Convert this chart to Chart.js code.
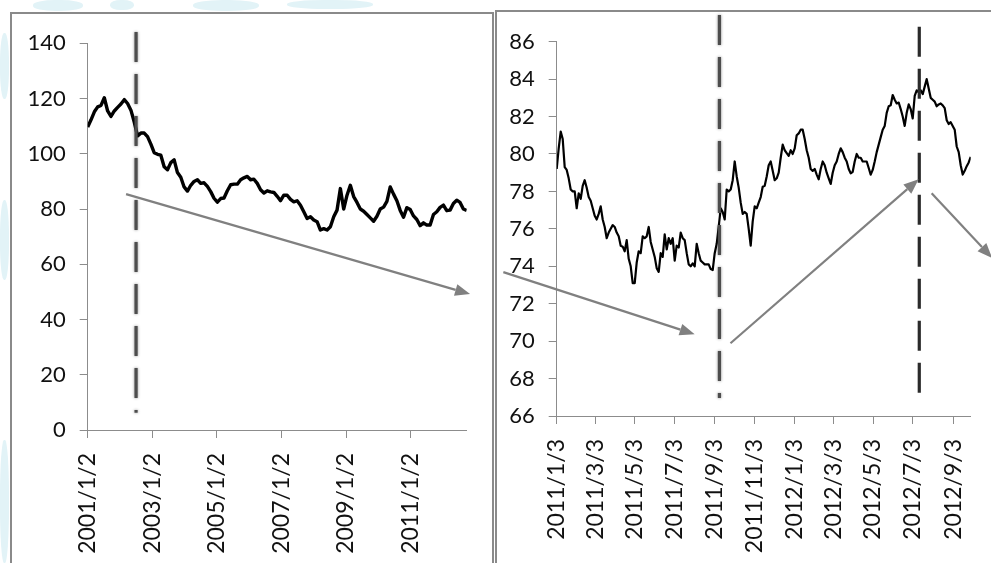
<!DOCTYPE html>
<html>
<head>
<meta charset="utf-8">
<script src="https://cdn.jsdelivr.net/npm/chart.js@4.4.1/dist/chart.umd.min.js"></script>
<style>
  html, body { margin: 0; padding: 0; background: #fff; overflow: hidden; }
  body { width: 991px; height: 563px; position: relative; font-family: Lato, sans-serif; }
  .wm { position: absolute; background: #e2f3f7; border-radius: 45%; }
  .panel { position: absolute; box-sizing: border-box; border: 2px solid #8a8a8a; background: #fff; }
  #panelLeft { left: 10px; top: 12px; width: 484px; height: 600px; }
  #panelRight { left: 495px; top: 10px; width: 540px; height: 600px; }
  canvas { position: absolute; }
  #leftChart { left: 12px; top: 14px; }
  #rightChart { left: 497px; top: 12px; }
</style>
</head>
<body>
<!-- faint background pattern around the panels -->
<div class="wm" style="left:33px;top:0;width:50px;height:11px;"></div>
<div class="wm" style="left:110px;top:0;width:24px;height:10px;"></div>
<div class="wm" style="left:193px;top:0;width:66px;height:11px;"></div>
<div class="wm" style="left:287px;top:0;width:86px;height:9px;"></div>
<div class="wm" style="left:0;top:33px;width:9px;height:66px;"></div>
<div class="wm" style="left:0;top:200px;width:9px;height:80px;"></div>
<div class="wm" style="left:0;top:440px;width:9px;height:123px;"></div>

<div class="panel" id="panelLeft"></div>
<div class="panel" id="panelRight"></div>
<canvas id="leftChart" width="480" height="549"></canvas>
<canvas id="rightChart" width="494" height="551"></canvas>

<script>
// ---- Long-run series, 2001/1/2 – 2012/9/28, evenly spaced samples ----
const leftStart = '2001/1/2';
const leftEnd = '2012/9/28';
const leftValues = [
  109.7, 112.3, 115.2, 117, 117.5, 120.3, 115.5, 113.5, 115.5, 116.8,
  118, 119.6, 118.2, 115.8, 111.5, 106.5, 107.5, 107.5, 106.2, 103.5,
  100.4, 99.8, 99.5, 95.3, 94.2, 96.8, 97.8, 93.2, 91.5, 88,
  86.5, 88.6, 90, 90.6, 89.3, 89.5, 88.2, 86.3, 83.9, 82.5,
  83.8, 84, 86.6, 88.8, 89, 89, 90.6, 91.3, 91.8, 90.6,
  90.8, 89.3, 87, 85.8, 86.6, 86.2, 86, 84.6, 83,
  85, 85, 83.5, 82.6, 83, 81.4, 79, 76.6, 77.2, 76,
  75.4, 72.4, 72.9, 72.4, 73.6, 77.2, 79.6, 87.4, 80, 85,
  88.6, 84.5, 82.4, 80, 79.2, 78, 76.8, 75.6, 77.4, 80,
  80.7, 82.8, 88, 85.4, 83, 79.5, 77, 80.5, 79.8, 77.5,
  76.2, 74, 75, 74.2, 74.2, 78, 79, 80.6, 81.4, 79.4,
  79.6, 82, 83.2, 82.4, 80, 79.5
];
const leftTickDates = ['2001/1/2', '2003/1/2', '2005/1/2', '2007/1/2', '2009/1/2', '2011/1/2'];
const leftYRange = [0, 140, 20];

// ---- Recent series, 2011/1/3 – 2012/9/30, evenly spaced samples ----
const rightStart = '2011/1/3';
const rightEnd = '2012/9/30';
const rightValues = [
  79.2, 80.3, 81.2, 80.8, 79.3, 79.15, 78.7, 78.1, 78.0, 78.0,
  77.1, 77.9, 77.6, 78.3, 78.6, 78.2, 77.7, 77.5, 77.1, 76.7,
  76.5, 76.8, 77.2, 76.5, 76.1, 75.5, 75.8, 76.0, 76.2, 76.1,
  75.8, 75.6, 75.1, 75.05, 74.8, 75.4, 74.4, 74.0, 73.1, 73.1,
  74.2, 74.8, 74.7, 75.6, 75.5, 75.6, 76.1, 75.3, 74.9, 74.5,
  73.9, 73.7, 74.7, 74.5, 75.7, 74.9, 75.5, 75.2, 75.5, 74.3,
  75.1, 75.0, 75.8, 75.5, 75.4, 74.7, 74.1, 74.0, 74.15, 74.0,
  75.2, 74.7, 74.3, 74.2, 74.1, 74.1, 74.1, 73.85, 73.8, 74.7,
  75.2, 76.1, 77.1, 76.9, 76.5, 78.1, 78.0, 78.1, 78.6, 79.6,
  78.8, 78.2, 77.4, 76.8, 76.9, 76.8, 76.0, 75.1, 76.4, 77.2,
  77.1, 77.4,
  77.7, 78.25, 78.3, 78.8, 79.4, 79.6, 79.1, 78.6, 78.7, 79.0,
  79.8, 80.5, 80.2, 80.05, 79.9, 80.2, 80.0, 80.3, 81.0, 81.1,
  81.3, 81.3, 80.8, 80.2, 79.8, 79.2, 79.1, 79.2, 78.9, 78.65,
  79.2, 79.6, 79.4, 79.0, 78.7, 78.4, 79.0, 79.4, 79.6, 80.0,
  80.3, 80.1, 79.8, 79.6, 79.2, 78.97, 79.05, 79.6, 80.0, 79.8,
  79.8, 79.6, 79.6, 79.6, 79.25, 78.9, 79.15, 79.6, 80.1, 80.5,
  80.9, 81.3, 81.5, 82.2, 82.55, 82.6, 83.15, 82.9, 82.7, 82.75,
  82.4, 82.0, 81.5, 82.2, 82.65, 82.4, 81.9, 83.1, 83.4, 83.3,
  83.4, 83.2, 83.6, 84.0, 83.5, 83.0, 82.9, 82.8, 82.55, 82.65,
  82.7, 82.6, 82.45, 81.8, 81.6, 81.7, 81.5, 81.3, 80.4, 80.1,
  79.4, 78.9, 79.1, 79.35, 79.55, 79.85
];
const rightTickDates = ['2011/1/3', '2011/3/3', '2011/5/3', '2011/7/3', '2011/9/3', '2011/11/3',
                        '2012/1/3', '2012/3/3', '2012/5/3', '2012/7/3', '2012/9/3'];
const rightYRange = [66, 86, 2];

// ---- Turning-point markers (dashed verticals) and trend arrows ----
const leftMarkers = [
  { date: '2002/7/3', top: 144.1, bottom: 6.2, color: '#4d4d4d', soft: true }
];
const leftArrows = [
  { from: ['2002/3/12', 85.4], to: ['2012/11/5', 49.2] }
];
const rightMarkers = [
  { date: '2011/9/10', top: 87.42, bottom: 66.96, color: '#4d4d4d', soft: true },
  { date: '2012/7/13', top: 86.8, bottom: 66.76, color: '#2b2b2b', soft: false }
];
const rightArrows = [
  { from: ['2010/10/13', 73.69], to: ['2011/8/3', 70.37] },
  { from: ['2011/9/27', 69.885], to: ['2012/7/12', 78.65] },
  { from: ['2012/8/1', 77.9], to: ['2012/11/2', 74.44] }
];

// day number (UTC) of a 'yyyy/m/d' string
function dayNum(s) {
  const [y, m, d] = s.split('/').map(Number);
  return Date.UTC(y, m - 1, d) / 86400000;
}

Chart.defaults.font.family = 'Lato';

function overlayPlugin(markers, arrows) {
  return {
    id: 'overlay',
    afterDatasetsDraw(chart) {
      const { ctx, scales } = chart;
      const px = d => scales.x.getPixelForValue(dayNum(d));
      const py = v => scales.y.getPixelForValue(v);
      markers.forEach(m => {
        ctx.save();
        ctx.strokeStyle = m.color;
        ctx.lineWidth = 3.2;
        ctx.setLineDash([30, 12]);
        if (m.soft) { ctx.shadowColor = 'rgba(0,0,0,0.45)'; ctx.shadowBlur = 3; }
        const X = px(m.date);
        ctx.beginPath();
        ctx.moveTo(X, py(m.top));
        ctx.lineTo(X, py(m.bottom));
        ctx.stroke();
        ctx.restore();
      });
      arrows.forEach(a => {
        const x1 = px(a.from[0]), y1 = py(a.from[1]);
        const x2 = px(a.to[0]), y2 = py(a.to[1]);
        const ang = Math.atan2(y2 - y1, x2 - x1);
        const head = 15, half = 6;
        const bx = x2 - head * Math.cos(ang), by = y2 - head * Math.sin(ang);
        ctx.save();
        ctx.strokeStyle = '#808080';
        ctx.fillStyle = '#808080';
        ctx.lineWidth = 2.2;
        ctx.beginPath();
        ctx.moveTo(x1, y1);
        ctx.lineTo(bx, by);
        ctx.stroke();
        ctx.beginPath();
        ctx.moveTo(x2, y2);
        ctx.lineTo(bx + half * Math.sin(ang), by - half * Math.cos(ang));
        ctx.lineTo(bx - half * Math.sin(ang), by + half * Math.cos(ang));
        ctx.closePath();
        ctx.fill();
        ctx.restore();
      });
    }
  };
}

function drawSeries(canvasId, cfg) {
  const t0 = dayNum(cfg.start), t1 = dayNum(cfg.end);
  const n = cfg.values.length;
  const points = cfg.values.map((v, i) => ({ x: t0 + i * (t1 - t0) / (n - 1), y: v }));
  const tickDays = cfg.ticks.map(dayNum);
  const axisColor = '#8c8c8c';
  return new Chart(document.getElementById(canvasId), {
    type: 'line',
    data: {
      datasets: [{
        data: points,
        borderColor: '#000',
        borderWidth: cfg.lineWidth,
        borderJoinStyle: 'round',
        pointRadius: 0,
        tension: 0,
        fill: false
      }]
    },
    options: {
      responsive: false,
      animation: false,
      devicePixelRatio: 1,
      layout: { padding: cfg.padding },
      plugins: { legend: { display: false }, tooltip: { enabled: false } },
      scales: {
        x: {
          type: 'linear',
          min: t0,
          max: t1,
          afterBuildTicks: axis => { axis.ticks = tickDays.map(v => ({ value: v })); },
          afterFit: axis => {
            axis.height = cfg.xHeight;
            axis.paddingLeft = 0;
            axis.paddingRight = 0;
          },
          ticks: {
            autoSkip: false,
            minRotation: 90,
            maxRotation: 90,
            padding: 15,
            color: '#111',
            font: { family: 'Lato', size: 23 },
            callback: (v, i) => cfg.ticks[i]
          },
          grid: { drawOnChartArea: false, drawTicks: true, tickLength: 8, color: axisColor, lineWidth: 1 },
          border: { display: true, color: axisColor, width: 1 }
        },
        y: {
          type: 'linear',
          min: cfg.yRange[0],
          max: cfg.yRange[1],
          afterFit: axis => {
            axis.width = cfg.yWidth;
            axis.paddingTop = 0;
            axis.paddingBottom = 0;
          },
          ticks: {
            stepSize: cfg.yRange[2],
            padding: 14,
            color: '#111',
            font: { family: 'Lato', size: 22 }
          },
          grid: { drawOnChartArea: false, drawTicks: true, tickLength: 8, color: axisColor, lineWidth: 1 },
          border: { display: true, color: axisColor, width: 1 }
        }
      }
    },
    plugins: [overlayPlugin(cfg.markers, cfg.arrows)]
  });
}

drawSeries('leftChart', {
  start: leftStart, end: leftEnd, values: leftValues, ticks: leftTickDates,
  yRange: leftYRange, lineWidth: 3.4,
  padding: { left: 0, top: 29.3, right: 25.3, bottom: 0 },
  yWidth: 75.7, xHeight: 133,
  markers: leftMarkers, arrows: leftArrows
});

drawSeries('rightChart', {
  start: rightStart, end: rightEnd, values: rightValues, ticks: rightTickDates,
  yRange: rightYRange, lineWidth: 2.2,
  padding: { left: 0, top: 29.7, right: 20.3, bottom: 0 },
  yWidth: 59.7, xHeight: 147,
  markers: rightMarkers, arrows: rightArrows
});
</script>
</body>
</html>
